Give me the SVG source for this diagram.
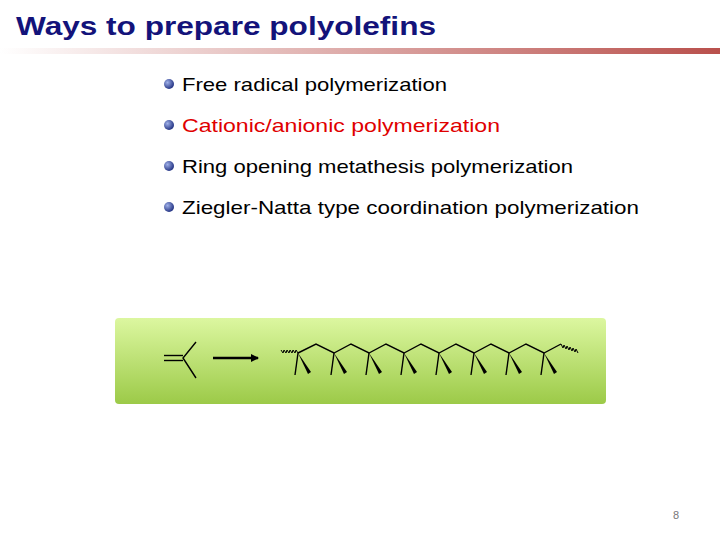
<svg xmlns="http://www.w3.org/2000/svg" width="720" height="540" viewBox="0 0 720 540">
<defs>
<linearGradient id="rule" x1="0" x2="1" y1="0" y2="0"><stop offset="0" stop-color="#ffffff"/><stop offset="1" stop-color="#b9504c"/></linearGradient>
<linearGradient id="box" x1="0" x2="0" y1="0" y2="1"><stop offset="0" stop-color="#dcf7a0"/><stop offset="1" stop-color="#9cca48"/></linearGradient>
<radialGradient id="ball" cx="0.35" cy="0.35" r="0.7"><stop offset="0" stop-color="#9fb0e8"/><stop offset="1" stop-color="#1f2f80"/></radialGradient>
<g id="unit"><line x1="0" y1="0" x2="-3" y2="22"/><polygon points="0,0 10,21 13,19" fill="#000" stroke="none"/></g>
<marker id="ah" markerWidth="8" markerHeight="8" refX="7" refY="4" orient="auto" markerUnits="userSpaceOnUse"><path d="M0,0 L8,4 L0,8 Z" fill="#000"/></marker>
</defs>
<style>
.t{font-family:"Liberation Sans",Arial,sans-serif;font-size:19px;fill:#000}
.b{stroke:#000;stroke-width:1.4;fill:none}
</style>
<rect width="720" height="540" fill="#fff"/>
<g id="title"><text x="16" y="35" font-family="Liberation Sans, Arial, sans-serif" font-weight="bold" font-size="26" fill="#13137a" textLength="420" lengthAdjust="spacingAndGlyphs">Ways to prepare polyolefins</text>
<rect x="0" y="48" width="720" height="6" fill="url(#rule)"/></g>
<g id="bullets">
<circle cx="169" cy="84" r="5" fill="url(#ball)"/><text class="t" x="182" y="91" textLength="265" lengthAdjust="spacingAndGlyphs">Free radical polymerization</text>
<circle cx="169" cy="125" r="5" fill="url(#ball)"/><text class="t" x="182" y="132" textLength="318" lengthAdjust="spacingAndGlyphs" style="fill:#e00000">Cationic/anionic polymerization</text>
<circle cx="169" cy="166" r="5" fill="url(#ball)"/><text class="t" x="182" y="173" textLength="391" lengthAdjust="spacingAndGlyphs">Ring opening metathesis polymerization</text>
<circle cx="169" cy="207" r="5" fill="url(#ball)"/><text class="t" x="182" y="214" textLength="457" lengthAdjust="spacingAndGlyphs">Ziegler-Natta type coordination polymerization</text>
</g>
<g id="scheme">
<rect x="115" y="318" width="491" height="86" rx="4" fill="url(#box)"/>
<g class="b">
<line x1="164" y1="355.5" x2="183" y2="355.5"/><line x1="164" y1="360.5" x2="183" y2="360.5"/>
<polyline points="196,342 183,358 196,378"/>
<line x1="213" y1="358" x2="258" y2="358" stroke-width="2.5" marker-end="url(#ah)"/>
<polyline points="298,353 316,344 334,353 351,344 369,353 386,344 404,353 421,344 439,353 456,344 474,353 491,344 509,353 526,344 544,353 561,344"/>
<path d="M298,353 l-2,-3 l-1,3 l-2,-3 l-1,3 l-2,-3 l-1,3 l-2,-3 l-1,3 l-2,-3 l-1,3 l-2,-3" stroke-width="1"/>
<path d="M561,344 l2,4 l1,-3 l2,4 l1,-3 l2,4 l1,-3 l2,4 l1,-3 l2,4 l1,-3 l2,4" stroke-width="1"/>
<use href="#unit" x="298" y="353"/><use href="#unit" x="334" y="353"/><use href="#unit" x="369" y="353"/><use href="#unit" x="404" y="353"/><use href="#unit" x="439" y="353"/><use href="#unit" x="474" y="353"/><use href="#unit" x="509" y="353"/><use href="#unit" x="544" y="353"/>
</g>
</g>
<text x="673" y="519" font-family="Liberation Sans, Arial, sans-serif" font-size="11" fill="#777">8</text>
</svg>
